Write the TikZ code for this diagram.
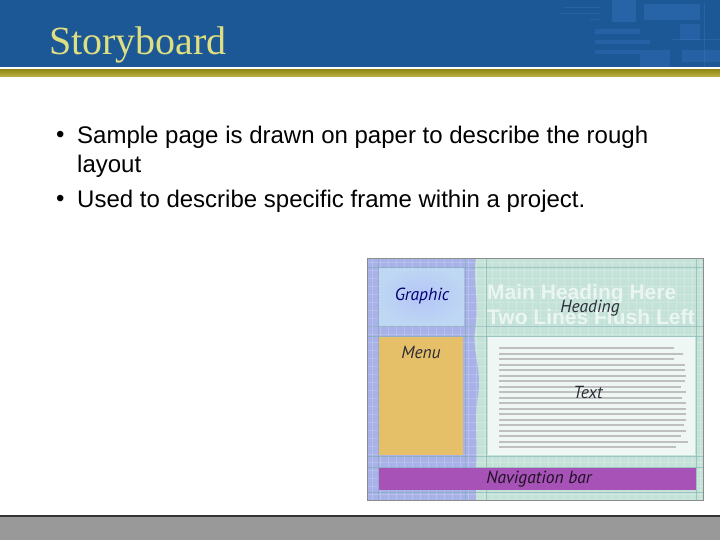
\documentclass[tikz,border=0pt]{standalone}
\usepackage{fontspec}
\setmainfont{Liberation Sans}
\newfontfamily\titlefont{Liberation Serif}
\newfontfamily\handfont{PT Sans}
\definecolor{hdrblue}{RGB}{29,88,150}
\definecolor{hdrdeco}{RGB}{60,120,200}
\definecolor{titleyel}{RGB}{222,222,130}
\definecolor{olive}{RGB}{172,160,24}
\definecolor{footgrey}{RGB}{153,153,153}
\definecolor{lavender}{RGB}{168,178,232}
\definecolor{paleteal}{RGB}{196,226,216}
\definecolor{gridteal}{RGB}{120,170,170}
\definecolor{skyblue}{RGB}{165,200,240}
\definecolor{menugold}{RGB}{230,192,104}
\definecolor{paper}{RGB}{238,247,244}
\definecolor{navpurple}{RGB}{166,82,182}
\definecolor{inkdark}{RGB}{45,45,55}
\tikzset{
  bullettext/.style={anchor=west,inner sep=0pt,font=\fontsize{24}{28}\selectfont},
  handlabel/.style={inner sep=0.75pt,text=inkdark,font=\handfont\itshape\fontsize{17.5}{20}\selectfont},
  bigheading/.style={anchor=west,inner sep=0pt,text=white,text opacity=0.65,font=\bfseries\fontsize{21}{23}\selectfont},
}
\begin{document}
\begin{tikzpicture}[x=1pt,y=1pt,yscale=-1,xscale=1]
	\useasboundingbox (0,0) rectangle (720,540);
	
	%Header band
	\fill [hdrblue] (0,0) rectangle (720,67.5) ;
	%Header decoration
	\fill [hdrdeco,opacity=0.35] (612,0) rectangle (636,22) ;
	\fill [hdrdeco,opacity=0.35] (644,4) rectangle (700,20) ;
	\fill [hdrdeco,opacity=0.30] (680,24) rectangle (700,40) ;
	\fill [hdrdeco,opacity=0.30] (595,29) rectangle (640,34) ;
	\fill [hdrdeco,opacity=0.30] (595,40) rectangle (650,44) ;
	\fill [hdrdeco,opacity=0.30] (595,50) rectangle (640,54) ;
	\fill [hdrdeco,opacity=0.30] (640,50) rectangle (670,67.5) ;
	\fill [hdrdeco,opacity=0.30] (682,50) rectangle (720,62) ;
	\draw [hdrdeco,opacity=0.35,line width=1] (565,8) -- (600,8) (560,14) -- (600,14) (590,20) -- (600,20) ;
	\draw [hdrdeco,opacity=0.35,line width=1] (672,40) -- (720,40) (704,4) -- (704,67.5) ;
	%Header rules
	\fill [white] (0,67.5) rectangle (720,69.5) ;
	\shade [top color=olive!85!black,bottom color=olive!80!white] (0,69.5) rectangle (720,77) ;
	
	%Footer band
	\fill [black!80] (0,515) rectangle (720,517) ;
	\fill [footgrey] (0,517) rectangle (720,540) ;
	
	% Title
	\node (title) [anchor=west,inner sep=0pt,text=titleyel,font=\titlefont\fontsize{40}{44}\selectfont] at (49,45) {Storyboard};
	
	% Bullets
	\node (dotA) [bullettext] at (56,137) {\textbullet};
	\node (itemA) [bullettext] at (77,137) {Sample page is drawn on paper to describe the rough};
	\node (itemAb) [bullettext] at (77,166) {layout};
	\node (dotB) [bullettext] at (56,201) {\textbullet};
	\node (itemB) [bullettext] at (77,201) {Used to describe specific frame within a project.};
	
	%Storyboard picture: backgrounds
	\fill [paleteal] (367,258) rectangle (703,500) ;
	\fill [lavender] (367,258) -- (476,258) .. controls (472,280) and (480,300) .. (475,330) .. controls (472,350) and (482,370) .. (478,395) .. controls (474,420) and (478,440) .. (476,470) -- (476,500) -- (367,500) -- cycle ;
	%grid
	\foreach \gx in {372,380,...,700} {\draw [white,opacity=0.18,line width=0.4] (\gx,258) -- (\gx,500) ;}
	\foreach \gy in {262,270,...,498} {\draw [white,opacity=0.18,line width=0.4] (367,\gy) -- (703,\gy) ;}
	\foreach \gy in {267,326,336,456,467,492} {\draw [gridteal,opacity=0.5,line width=0.6] (367,\gy) -- (703,\gy) ;}
	\foreach \gx in {378,465,486,696} {\draw [gridteal,opacity=0.5,line width=0.6] (\gx,258) -- (\gx,500) ;}
	\draw [black!45,line width=0.6] (367,258) rectangle (703,500) ;
	
	%Graphic box
	\shade [inner color=skyblue!80!blue!60!white,outer color=skyblue!70!white,opacity=0.95] (379,268) rectangle (464,325) ;
	%Menu box
	\fill [menugold] (379,337) rectangle (463,455) ;
	%Text area
	\fill [paper] (488,337) rectangle (695,455) ;
	\foreach \ly/\lx in {348/674,354/683,359/674,365/685,370/685,376/686,381/685,387/681,392/686,398/682,403/686,409/686,414/686,420/686,425/684,431/686,436/681,442/688,447/676} {
		\draw [black!25,line width=1.3] (499,\ly) -- (\lx,\ly) ;
	}
	%Navigation bar
	\fill [navpurple] (379,468) rectangle (696,490) ;
	
	% Heading placeholder text
	\node (mainA) [bigheading] at (487,294) {Main Heading Here};
	\node (mainB) [bigheading] at (487,317) {Two Lines Flush Left};
	
	% Hand labels
	\node (graphic) [handlabel,text=blue!45!black] at (422,296) {Graphic};
	\node (heading) [handlabel] at (590,308) {Heading};
	\node (menu) [handlabel] at (421,352) {Menu};
	\node (text) [handlabel] at (588,392) {Text};
	\node (navbar) [handlabel,text=black!80!navpurple] at (539,479) {Navigation bar};
	
\end{tikzpicture}
\end{document}
